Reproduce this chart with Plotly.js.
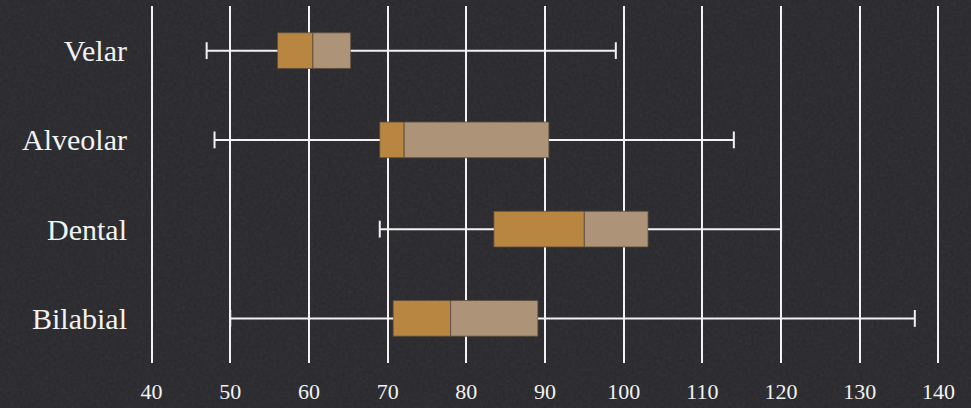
<!DOCTYPE html>
<html>
<head>
<meta charset="utf-8">
<script src="https://cdn.plot.ly/plotly-3.0.1.min.js"></script>
<style>
  html, body { margin: 0; padding: 0; width: 971px; height: 408px; overflow: hidden; }
  body {
    background-color: #29292d;
    background-image: url("data:image/svg+xml;utf8,<svg xmlns='http://www.w3.org/2000/svg' width='971' height='408'><filter id='n'><feTurbulence type='fractalNoise' baseFrequency='0.35' numOctaves='3' seed='7'/><feColorMatrix type='saturate' values='0'/></filter><rect width='100%' height='100%' filter='url(%23n)' opacity='0.07'/></svg>");
  }
  #chart { width: 971px; height: 408px; }
</style>
</head>
<body>
<div id="chart"></div>
<script>
// Place of articulation, top to bottom
const places = ['Velar', 'Alveolar', 'Dental', 'Bilabial'];

// Five-number summaries per place
const whiskerLow  = [47, 48, 69, 50];
const quartile1   = [56, 69, 83.5, 70.7];
const medians     = [60.5, 72.1, 95, 78];
const quartile3   = [65.3, 90.5, 103.1, 89.1];
const whiskerHigh = [99, 114, 120, 137];

const xTicks = [40, 50, 60, 70, 80, 90, 100, 110, 120, 130, 140];

const lowerColor = '#b98641';
const upperColor = '#ad9378';
const lineColor  = '#f2f2f2';

const traces = [];

// Whiskers: from each fence to the box edge, capped at the fence
places.forEach((p, i) => {
  traces.push({
    type: 'scatter',
    mode: 'lines',
    x: [whiskerLow[i], quartile1[i], null, quartile3[i], whiskerHigh[i]],
    y: [p, p, null, p, p],
    line: { color: lineColor, width: 2 },
    hoverinfo: 'skip',
    showlegend: false
  });
});
traces.push({
  type: 'scatter',
  mode: 'markers',
  x: whiskerLow.concat(whiskerHigh),
  y: places.concat(places),
  marker: { symbol: 'line-ns', size: 12, line: { color: lineColor, width: 2 } },
  hoverinfo: 'skip',
  showlegend: false
});

// Lower half of the box: first quartile to median
traces.push({
  type: 'bar',
  orientation: 'h',
  y: places,
  base: quartile1,
  x: medians.map((m, i) => m - quartile1[i]),
  width: 0.4,
  marker: { color: lowerColor, line: { color: 'rgba(90,75,60,0.8)', width: 1 } },
  showlegend: false
});

// Upper half of the box: median to third quartile
traces.push({
  type: 'bar',
  orientation: 'h',
  y: places,
  base: medians,
  x: quartile3.map((q, i) => q - medians[i]),
  width: 0.4,
  marker: { color: upperColor, line: { color: 'rgba(90,75,60,0.8)', width: 1 } },
  showlegend: false
});

const layout = {
  width: 971,
  height: 408,
  margin: { l: 150, r: 31, t: 6, b: 45 },
  paper_bgcolor: 'rgba(0,0,0,0)',
  plot_bgcolor: 'rgba(0,0,0,0)',
  barmode: 'overlay',
  font: { family: '"Liberation Serif", "Times New Roman", serif', color: '#f2f2f2' },
  xaxis: {
    // a little slack at both ends so the 40 and 140 grid lines are kept
    range: [39.8, 140.2],
    tickvals: xTicks,
    ticktext: xTicks.map(String),
    showgrid: true,
    gridcolor: lineColor,
    gridwidth: 2,
    zeroline: false,
    showline: false,
    ticks: '',
    ticklabelstandoff: 13,
    tickfont: { size: 22, color: '#f2f2f2' }
  },
  yaxis: {
    type: 'category',
    categoryorder: 'array',
    categoryarray: places,
    range: [3.5, -0.5],
    showgrid: false,
    zeroline: false,
    showline: false,
    ticks: '',
    ticklabelstandoff: 22,
    tickfont: { size: 30, color: '#f2f2f2' }
  }
};

Plotly.newPlot('chart', traces, layout, { displayModeBar: false, staticPlot: true });
</script>
</body>
</html>
